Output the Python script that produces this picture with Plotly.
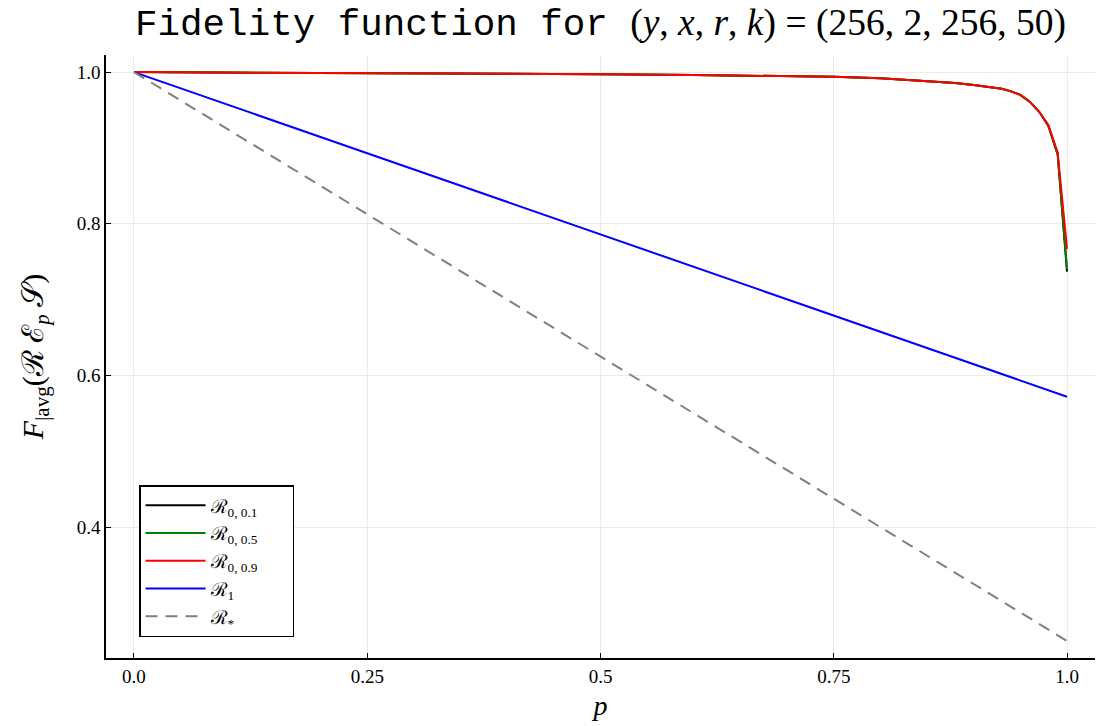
import plotly.graph_objects as go

# ---- data ----
p_grid = [0.0, 0.1, 0.2, 0.3, 0.4, 0.5, 0.6, 0.7, 0.75, 0.8, 0.85, 0.88, 0.9,
          0.92, 0.93, 0.94, 0.95, 0.96, 0.97, 0.98, 0.99, 1.0]
F_01 = [1.0, 0.9996, 0.9990, 0.9984, 0.9978, 0.9971, 0.9961, 0.9948, 0.9938, 0.9920,
        0.9885, 0.9855, 0.983, 0.980, 0.978, 0.9745, 0.970, 0.961, 0.948, 0.929, 0.891, 0.737]
F_05 = [1.0, 0.9996, 0.9990, 0.9984, 0.9978, 0.9971, 0.9961, 0.9948, 0.9938, 0.9920,
        0.9885, 0.9855, 0.983, 0.980, 0.978, 0.9745, 0.970, 0.961, 0.948, 0.930, 0.892, 0.740]
F_09 = [1.0, 0.9996, 0.9990, 0.9984, 0.9978, 0.9971, 0.9961, 0.9948, 0.9938, 0.9920,
        0.9885, 0.9855, 0.983, 0.980, 0.978, 0.9745, 0.970, 0.961, 0.948, 0.930, 0.894, 0.767]
p_lin = [0.0, 1.0]
F_1 = [1.0, 0.572]
F_star = [1.0, 0.25]

x_ticks = [0.0, 0.25, 0.5, 0.75, 1.0]
x_ticktext = ["0.0", "0.25", "0.5", "0.75", "1.0"]
y_ticks = [0.4, 0.6, 0.8, 1.0]
y_ticktext = ["0.4", "0.6", "0.8", "1.0"]

SERIF = "Liberation Serif"
MONO = "Liberation Mono"

fig = go.Figure()
series = [
    (p_grid, F_01, "ℛ<sub>0, 0.1</sub>", "black", "solid"),
    (p_grid, F_05, "ℛ<sub>0, 0.5</sub>", "#008000", "solid"),
    (p_grid, F_09, "ℛ<sub>0, 0.9</sub>", "#ff0000", "solid"),
    (p_lin, F_1, "ℛ<sub>1</sub>", "#0000ff", "solid"),
    (p_lin, F_star, "ℛ<sub>*</sub>", "#808080", "12px,8px"),
]
for xs, ys, name, col, dash in series:
    fig.add_trace(go.Scatter(x=xs, y=ys, mode="lines", name=name + "\u2003\u2002",
                             line=dict(color=col, width=2, dash=dash)))

title_html = (f'<span style="font-family:{MONO}">Fidelity function for </span>'
              f'<span style="font-family:{SERIF}">(<i>y</i>, <i>x</i>, <i>r</i>, <i>k</i>) = (256, 2, 256, 50)</span>')

axis_common = dict(showline=True, linecolor="black", linewidth=1.5, mirror=False,
                   ticks="inside", ticklen=5, tickcolor="black", tickwidth=1,
                   showgrid=True, gridcolor="#ebebeb", gridwidth=1, zeroline=False,
                   tickfont=dict(family=SERIF, size=19, color="black"))

fig.update_layout(
    width=1100, height=726,
    margin=dict(l=106, r=5, t=55, b=68),
    paper_bgcolor="white", plot_bgcolor="white",
    title=dict(text=title_html, x=0.5, xref="paper", xanchor="center",
               y=1 - 22 / 726, yref="container", yanchor="middle",
               font=dict(size=37.5, color="black", family=SERIF)),
    xaxis=dict(range=[-0.03, 1.03], tickvals=x_ticks, ticktext=x_ticktext,
               title=dict(text="<i>p</i>", font=dict(family=SERIF, size=28, color="black"), standoff=10),
               **axis_common),
    yaxis=dict(range=[0.2275, 1.0225], tickvals=y_ticks, ticktext=y_ticktext,
               title=dict(text="<i>F</i><sub>|avg</sub>(ℛ ℰ<sub><i>p</i></sub> 𝒮)",
                          font=dict(family=SERIF, size=30, color="black"), standoff=24),
               **axis_common),
    legend=dict(x=0.0334, y=0.0348, xanchor="left", yanchor="bottom",
                bordercolor="black", borderwidth=1.5, bgcolor="white",
                font=dict(family=SERIF, size=19, color="black"),
                tracegroupgap=0, itemwidth=60),
    showlegend=True,
)

fig.write_html("out.html")
